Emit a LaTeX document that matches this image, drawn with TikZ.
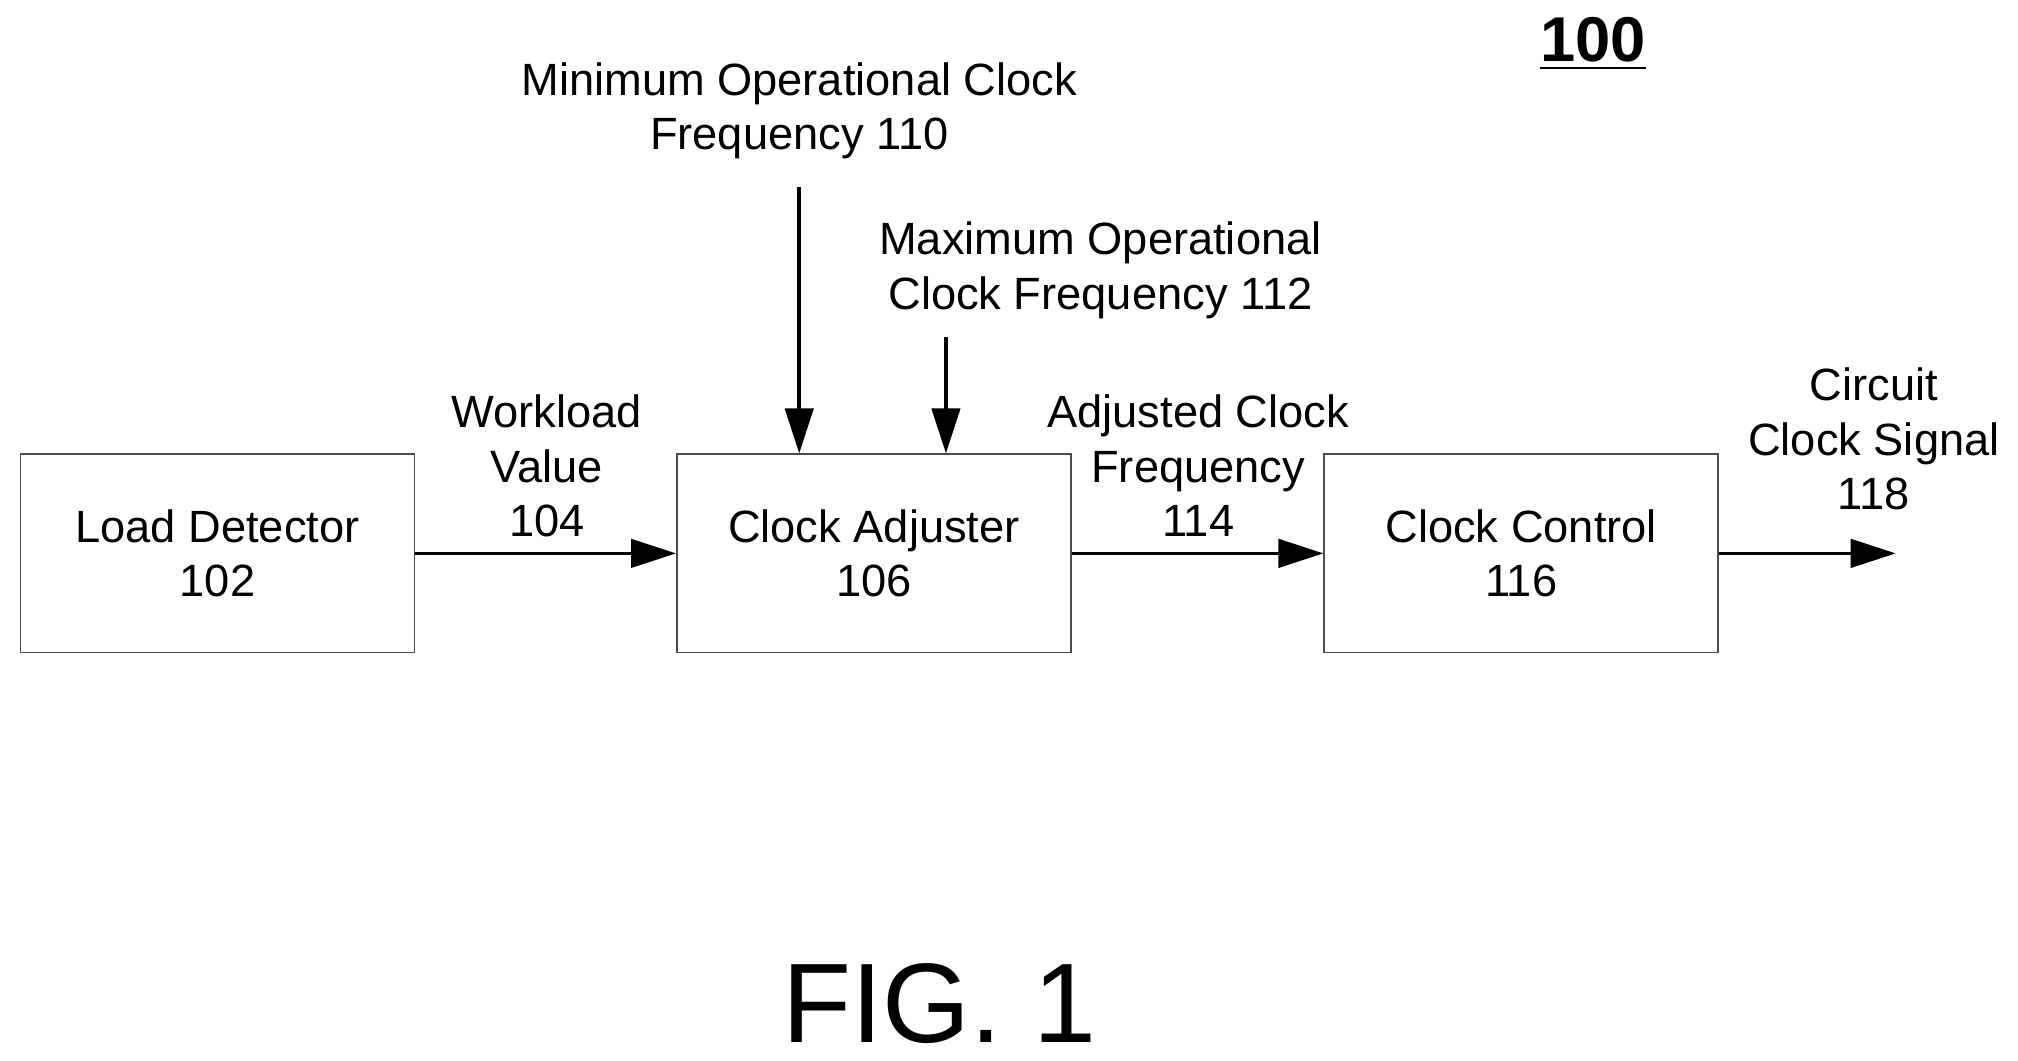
\documentclass[tikz,border=0pt]{standalone}
\usepackage{fontspec}
\setmainfont{Liberation Sans}
\usetikzlibrary{positioning,arrows.meta}
\tikzset{
  block/.style={draw=black!70,thin,minimum width=3.06cm,minimum height=1.54cm,align=center,font=\fontsize{10}{12}\selectfont},
  lbl/.style={align=center,font=\fontsize{10}{12}\selectfont},
  sig/.style={thick,-{Triangle[length=3.5mm,width=2.2mm]}}
}
\begin{document}
\begin{tikzpicture}
\useasboundingbox (0,0) rectangle (15.68,8.24);
\node[block] (load) at (1.69,3.94) {Load Detector\\102}; % load detector
\node[block] (adj) at (6.79,3.94) {Clock Adjuster\\106}; % clock adjuster
\node[block] (ctrl) at (11.82,3.94) {Clock Control\\116}; % clock control
\coordinate (out) at (14.73,3.94);
\coordinate (minsrc) at (6.21,6.79);
\coordinate (maxsrc) at (7.35,5.62);
\node[lbl] (minlbl) at (6.21,7.38) {Minimum Operational Clock\\Frequency 110};
\node[lbl] (maxlbl) at (8.55,6.14) {Maximum Operational\\Clock Frequency 112};
\node[lbl] (wl) at (4.25,4.62) {Workload\\Value\\104};
\node[lbl] (acf) at (9.31,4.62) {Adjusted Clock\\Frequency\\114};
\node[lbl] (ccs) at (14.56,4.83) {Circuit\\Clock Signal\\118};
\node[font=\fontsize{14}{16}\selectfont\bfseries] (num) at (12.38,7.90) {\underline{100}};
\node[font=\fontsize{25}{28}\selectfont] (fig) at (7.3,0.44) {FIG. 1};
% wiring
\draw[sig] (load) -- (adj);
\draw[sig] (adj) -- (ctrl);
\draw[sig] (ctrl) -- (out);
\draw[sig] (minsrc) -- (minsrc |- adj.north);
\draw[sig] (maxsrc) -- (maxsrc |- adj.north);
\end{tikzpicture}
\end{document}
